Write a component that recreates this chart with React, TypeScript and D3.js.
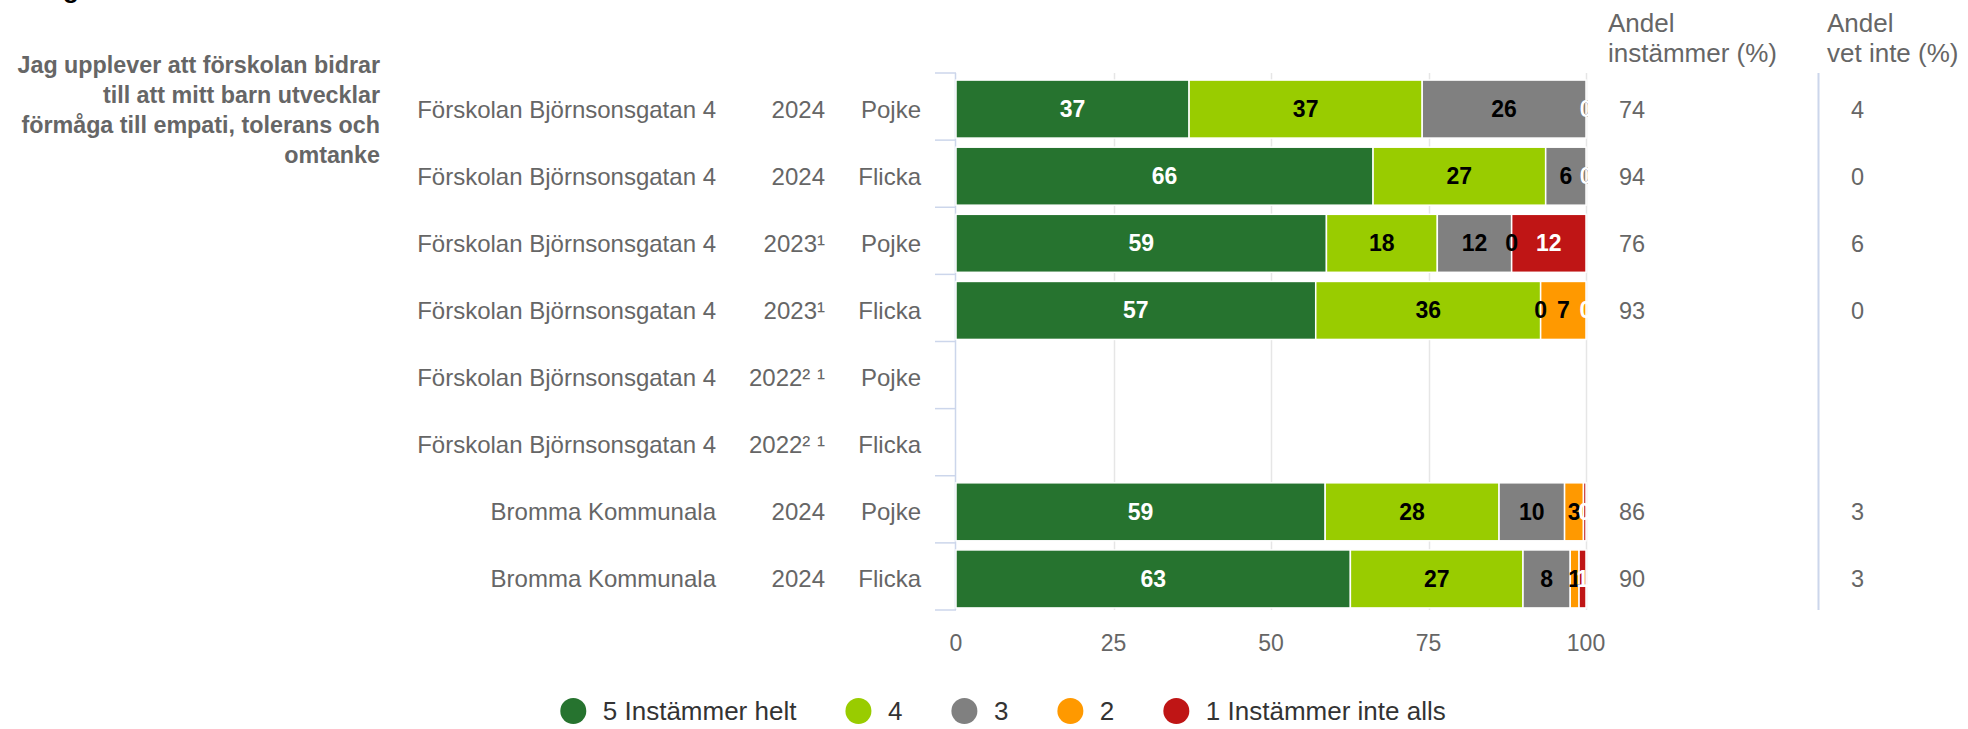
import React, { useEffect, useRef } from 'react';
import * as d3 from 'd3';

// rows (categories), read top to bottom
const schools = [
  'Förskolan Björnsonsgatan 4',
  'Förskolan Björnsonsgatan 4',
  'Förskolan Björnsonsgatan 4',
  'Förskolan Björnsonsgatan 4',
  'Förskolan Björnsonsgatan 4',
  'Förskolan Björnsonsgatan 4',
  'Bromma Kommunala',
  'Bromma Kommunala',
];
const years = ['2024', '2024', '2023¹', '2023¹', '2022² ¹', '2022² ¹', '2024', '2024'];
const genders = ['Pojke', 'Flicka', 'Pojke', 'Flicka', 'Pojke', 'Flicka', 'Pojke', 'Flicka'];

// stacked series (percent), null = no data
const s5 = [37.0, 66.2, 58.8, 57.1, null, null, 58.6, 62.6];
const s4 = [37.0, 27.4, 17.6, 35.7, null, null, 27.6, 27.4];
const s3 = [26.0, 6.4, 11.8, 0, null, null, 10.4, 7.5];
const s2 = [0, 0, 0, 7.2, null, null, 3.0, 1.4];
const s1 = [0, 0, 11.8, 0, null, null, 0.4, 1.1];

const seriesKeys = ['s5', 's4', 's3', 's2', 's1'];
const seriesNames = ['5 Instämmer helt', '4', '3', '2', '1 Instämmer inte alls'];
const seriesColors = ['#26732f', '#99cc00', '#808080', '#ff9900', '#bf1515'];
const labelColors = ['#ffffff', '#000000', '#000000', '#000000', '#ffffff'];

// side columns
const andelInstammer = [74, 94, 76, 93, null, null, 86, 90];
const andelVetInte = [4, 0, 6, 0, null, null, 3, 3];

const xTicks = [0, 25, 50, 75, 100];
const questionLines = [
  'Jag upplever att förskolan bidrar',
  'till att mitt barn utvecklar',
  'förmåga till empati, tolerans och',
  'omtanke',
];

const W = 1968;
const H = 729;
const FONT = '"Liberation Sans", Arial, Helvetica, sans-serif';

const App = () => {
  const ref = useRef<SVGSVGElement>(null);

  useEffect(() => {
    if (!ref.current) return;
    const svg = d3.select(ref.current);
    svg.selectAll('*').remove();

    const plot = { left: 956, right: 1586, top: 73, bottom: 610 };
    const shift = 2.5; // bars sit a little below the band centre
    const x = d3.scaleLinear().domain([0, 100]).range([plot.left, plot.right]);
    const y = d3
      .scaleBand<number>()
      .domain(d3.range(schools.length))
      .range([plot.top, plot.bottom])
      .paddingInner(0.136)
      .paddingOuter(0.068);
    const step = y.step();
    const cy = (i: number) => (y(i) as number) + y.bandwidth() / 2 + shift;

    const table = schools.map((_, i) => ({
      i,
      s5: s5[i] ?? 0,
      s4: s4[i] ?? 0,
      s3: s3[i] ?? 0,
      s2: s2[i] ?? 0,
      s1: s1[i] ?? 0,
      empty: s5[i] === null,
    }));
    const stacked = d3.stack<any>().keys(seriesKeys)(table);

    // cut-off heading above the question
    svg
      .append('text')
      .attr('x', 63)
      .attr('y', -2.5)
      .attr('font-size', 26)
      .attr('font-weight', 'bold')
      .attr('fill', '#000')
      .text('g');

    // question text
    svg
      .append('g')
      .selectAll('text')
      .data(questionLines)
      .join('text')
      .attr('x', 380)
      .attr('y', (_, k) => 73 + k * 30)
      .attr('text-anchor', 'end')
      .attr('font-size', 23.3)
      .attr('font-weight', 'bold')
      .attr('fill', '#666666')
      .text((d) => d);

    // grid
    svg
      .append('g')
      .selectAll('line')
      .data(xTicks.slice(1))
      .join('line')
      .attr('x1', (d) => Math.round(x(d)) + 0.5)
      .attr('x2', (d) => Math.round(x(d)) + 0.5)
      .attr('y1', plot.top)
      .attr('y2', plot.bottom)
      .attr('stroke', '#e6e6e6')
      .attr('stroke-width', 1.5);

    // category axis
    svg
      .append('line')
      .attr('x1', plot.left - 0.5)
      .attr('x2', plot.left - 0.5)
      .attr('y1', plot.top)
      .attr('y2', plot.bottom)
      .attr('stroke', '#ccd6eb')
      .attr('stroke-width', 1.5);
    svg
      .append('g')
      .selectAll('line')
      .data(d3.range(schools.length + 1))
      .join('line')
      .attr('x1', plot.left - 21)
      .attr('x2', plot.left)
      .attr('y1', (k) => plot.top + k * step)
      .attr('y2', (k) => plot.top + k * step)
      .attr('stroke', '#ccd6eb')
      .attr('stroke-width', 1.5);

    // row labels
    const rowCols: [string[], number][] = [
      [schools, 716],
      [years, 825],
      [genders, 921],
    ];
    rowCols.forEach(([labels, xPos]) => {
      svg
        .append('g')
        .selectAll('text')
        .data(labels)
        .join('text')
        .attr('x', xPos)
        .attr('y', (_, i) => cy(i) + 8.5)
        .attr('text-anchor', 'end')
        .attr('font-size', 24)
        .attr('fill', '#666666')
        .text((d) => d);
    });

    // bars
    svg
      .append('g')
      .selectAll('g')
      .data(stacked)
      .join('g')
      .attr('fill', (_, k) => seriesColors[k])
      .selectAll('rect')
      .data((d) => d.filter((p) => !p.data.empty))
      .join('rect')
      .attr('x', (p) => x(p[0]))
      .attr('width', (p) => Math.max(0, x(p[1]) - x(p[0])))
      .attr('y', (p) => (y(p.data.i) as number) + shift)
      .attr('height', y.bandwidth())
      .attr('stroke', '#ffffff')
      .attr('stroke-width', (p) => (p[1] - p[0] > 0 ? 1.5 : 0));

    // data labels, clipped to the plot
    svg
      .append('clipPath')
      .attr('id', 'plotClip')
      .append('rect')
      .attr('x', plot.left)
      .attr('y', plot.top)
      .attr('width', plot.right - plot.left + 2)
      .attr('height', plot.bottom - plot.top + 5);
    const labels = svg.append('g').attr('clip-path', 'url(#plotClip)');
    stacked.forEach((layer, k) => {
      labels
        .append('g')
        .selectAll('text')
        .data(layer.filter((p) => !p.data.empty))
        .join('text')
        .attr('x', (p) => x((p[0] + p[1]) / 2))
        .attr('y', (p) => cy(p.data.i) + 8)
        .attr('text-anchor', 'middle')
        .attr('font-size', 23)
        .attr('font-weight', 'bold')
        .attr('fill', labelColors[k])
        .text((p) => Math.round(p[1] - p[0]));
    });

    // x axis labels
    svg
      .append('g')
      .selectAll('text')
      .data(xTicks)
      .join('text')
      .attr('x', (d) => x(d))
      .attr('y', 651)
      .attr('text-anchor', 'middle')
      .attr('font-size', 23)
      .attr('fill', '#666666')
      .text((d) => d);

    // side columns
    const headers: [string[], number][] = [
      [['Andel', 'instämmer (%)'], 1608],
      [['Andel', 'vet inte (%)'], 1827],
    ];
    headers.forEach(([lines, xPos]) => {
      svg
        .append('g')
        .selectAll('text')
        .data(lines)
        .join('text')
        .attr('x', xPos)
        .attr('y', (_, k) => 32 + k * 30)
        .attr('font-size', 26)
        .attr('fill', '#666666')
        .text((d) => d);
    });
    svg
      .append('line')
      .attr('x1', 1818.5)
      .attr('x2', 1818.5)
      .attr('y1', plot.top)
      .attr('y2', plot.bottom)
      .attr('stroke', '#ccd6eb')
      .attr('stroke-width', 2);
    const sideCols: [(number | null)[], number][] = [
      [andelInstammer, 1619],
      [andelVetInte, 1851],
    ];
    sideCols.forEach(([vals, xPos]) => {
      svg
        .append('g')
        .selectAll('text')
        .data(vals.map((v, i) => ({ v, i })).filter((d) => d.v !== null))
        .join('text')
        .attr('x', xPos)
        .attr('y', (d) => cy(d.i) + 8.5)
        .attr('font-size', 23.5)
        .attr('fill', '#666666')
        .text((d) => String(d.v));
    });

    // legend
    const legend = svg.append('g');
    const items = seriesNames.map((name, k) => {
      const g = legend.append('g');
      g.append('circle').attr('r', 13).attr('fill', seriesColors[k]);
      const t = g
        .append('text')
        .attr('x', 29.5)
        .attr('y', 9.3)
        .attr('font-size', 26)
        .attr('fill', '#333333')
        .text(name);
      const w = (t.node() as SVGTextElement).getComputedTextLength();
      return { g, w };
    });
    let cx = 13;
    const positions = items.map((it) => {
      const p = cx;
      cx = p + 29.5 + it.w + 62;
      return p;
    });
    const total = cx - 62;
    const start = 1003 - total / 2;
    items.forEach((it, k) => {
      it.g.attr('transform', `translate(${start + positions[k]},711)`);
    });
  }, []);

  return (
    <svg
      ref={ref}
      width={W}
      height={H}
      style={{ position: 'absolute', left: 0, top: 0, fontFamily: FONT, background: '#fff' }}
    />
  );
};

export default App;
